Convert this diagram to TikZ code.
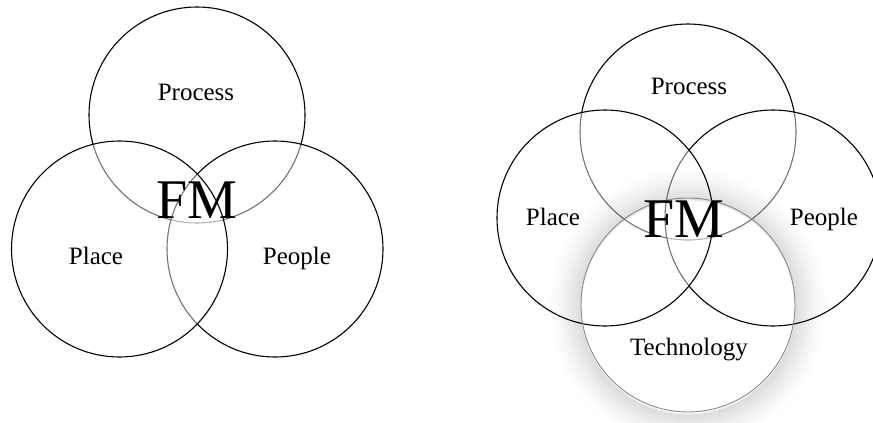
\documentclass[tikz,border=0pt]{standalone}
\usepackage{fontspec}
\setmainfont{Liberation Serif}
\begin{document}
\begin{tikzpicture}[x=1pt,y=-1pt,
  ring/.style={circle, draw=black, line width=1.1pt, fill=white, fill opacity=0.45, minimum size=216pt, inner sep=0pt},
  techring/.style={circle, draw=black!45, line width=0.9pt, minimum size=214pt, inner sep=0pt},
  lbl/.style={font=\fontsize{25}{30}\selectfont, anchor=base, inner sep=0pt},
  fm/.style={font=\fontsize{56}{60}\selectfont, anchor=base, inner sep=0pt}]
\useasboundingbox[fill=white] (0,0) rectangle (873,423);

% ---------- left diagram ----------
\node[ring] (lproc) at (197,115) {};
\node[ring] (lpeop) at (275,249) {};
\node[ring] (lplace) at (119.5,249) {};
\node[lbl] (lproct) at (196,100) {Process};
\node[lbl] (lplacet) at (96,264) {Place};
\node[lbl] (lpeopt) at (297,264) {People};
\node[fm] (lfm) at (196.5,218) {FM};

% ---------- right diagram ----------
\node[ring] (rproc) at (688,132) {};
\node[ring] (rpeop) at (773,218) {};
\node[ring] (rplace) at (605,218) {};
% soft glow around technology circle
\foreach \i in {1,...,34}{
  \pgfmathsetmacro\op{0.068*(1-\i/35)^1.4}
  \pgfmathsetmacro\rr{106.5+\i}
  \draw[black, opacity=\op, line width=2pt] (688,307) circle[radius=\rr pt];
}
\node[techring] (rtech) at (688,305) {};
\node[lbl] (rproct) at (689,94) {Process};
\node[lbl] (rplacet) at (553,225) {Place};
\node[lbl] (rpeopt) at (824,225) {People};
\node[lbl] (rtecht) at (689,355) {Technology};
\node[fm] (rfm) at (684,237) {FM};
\end{tikzpicture}
\end{document}
